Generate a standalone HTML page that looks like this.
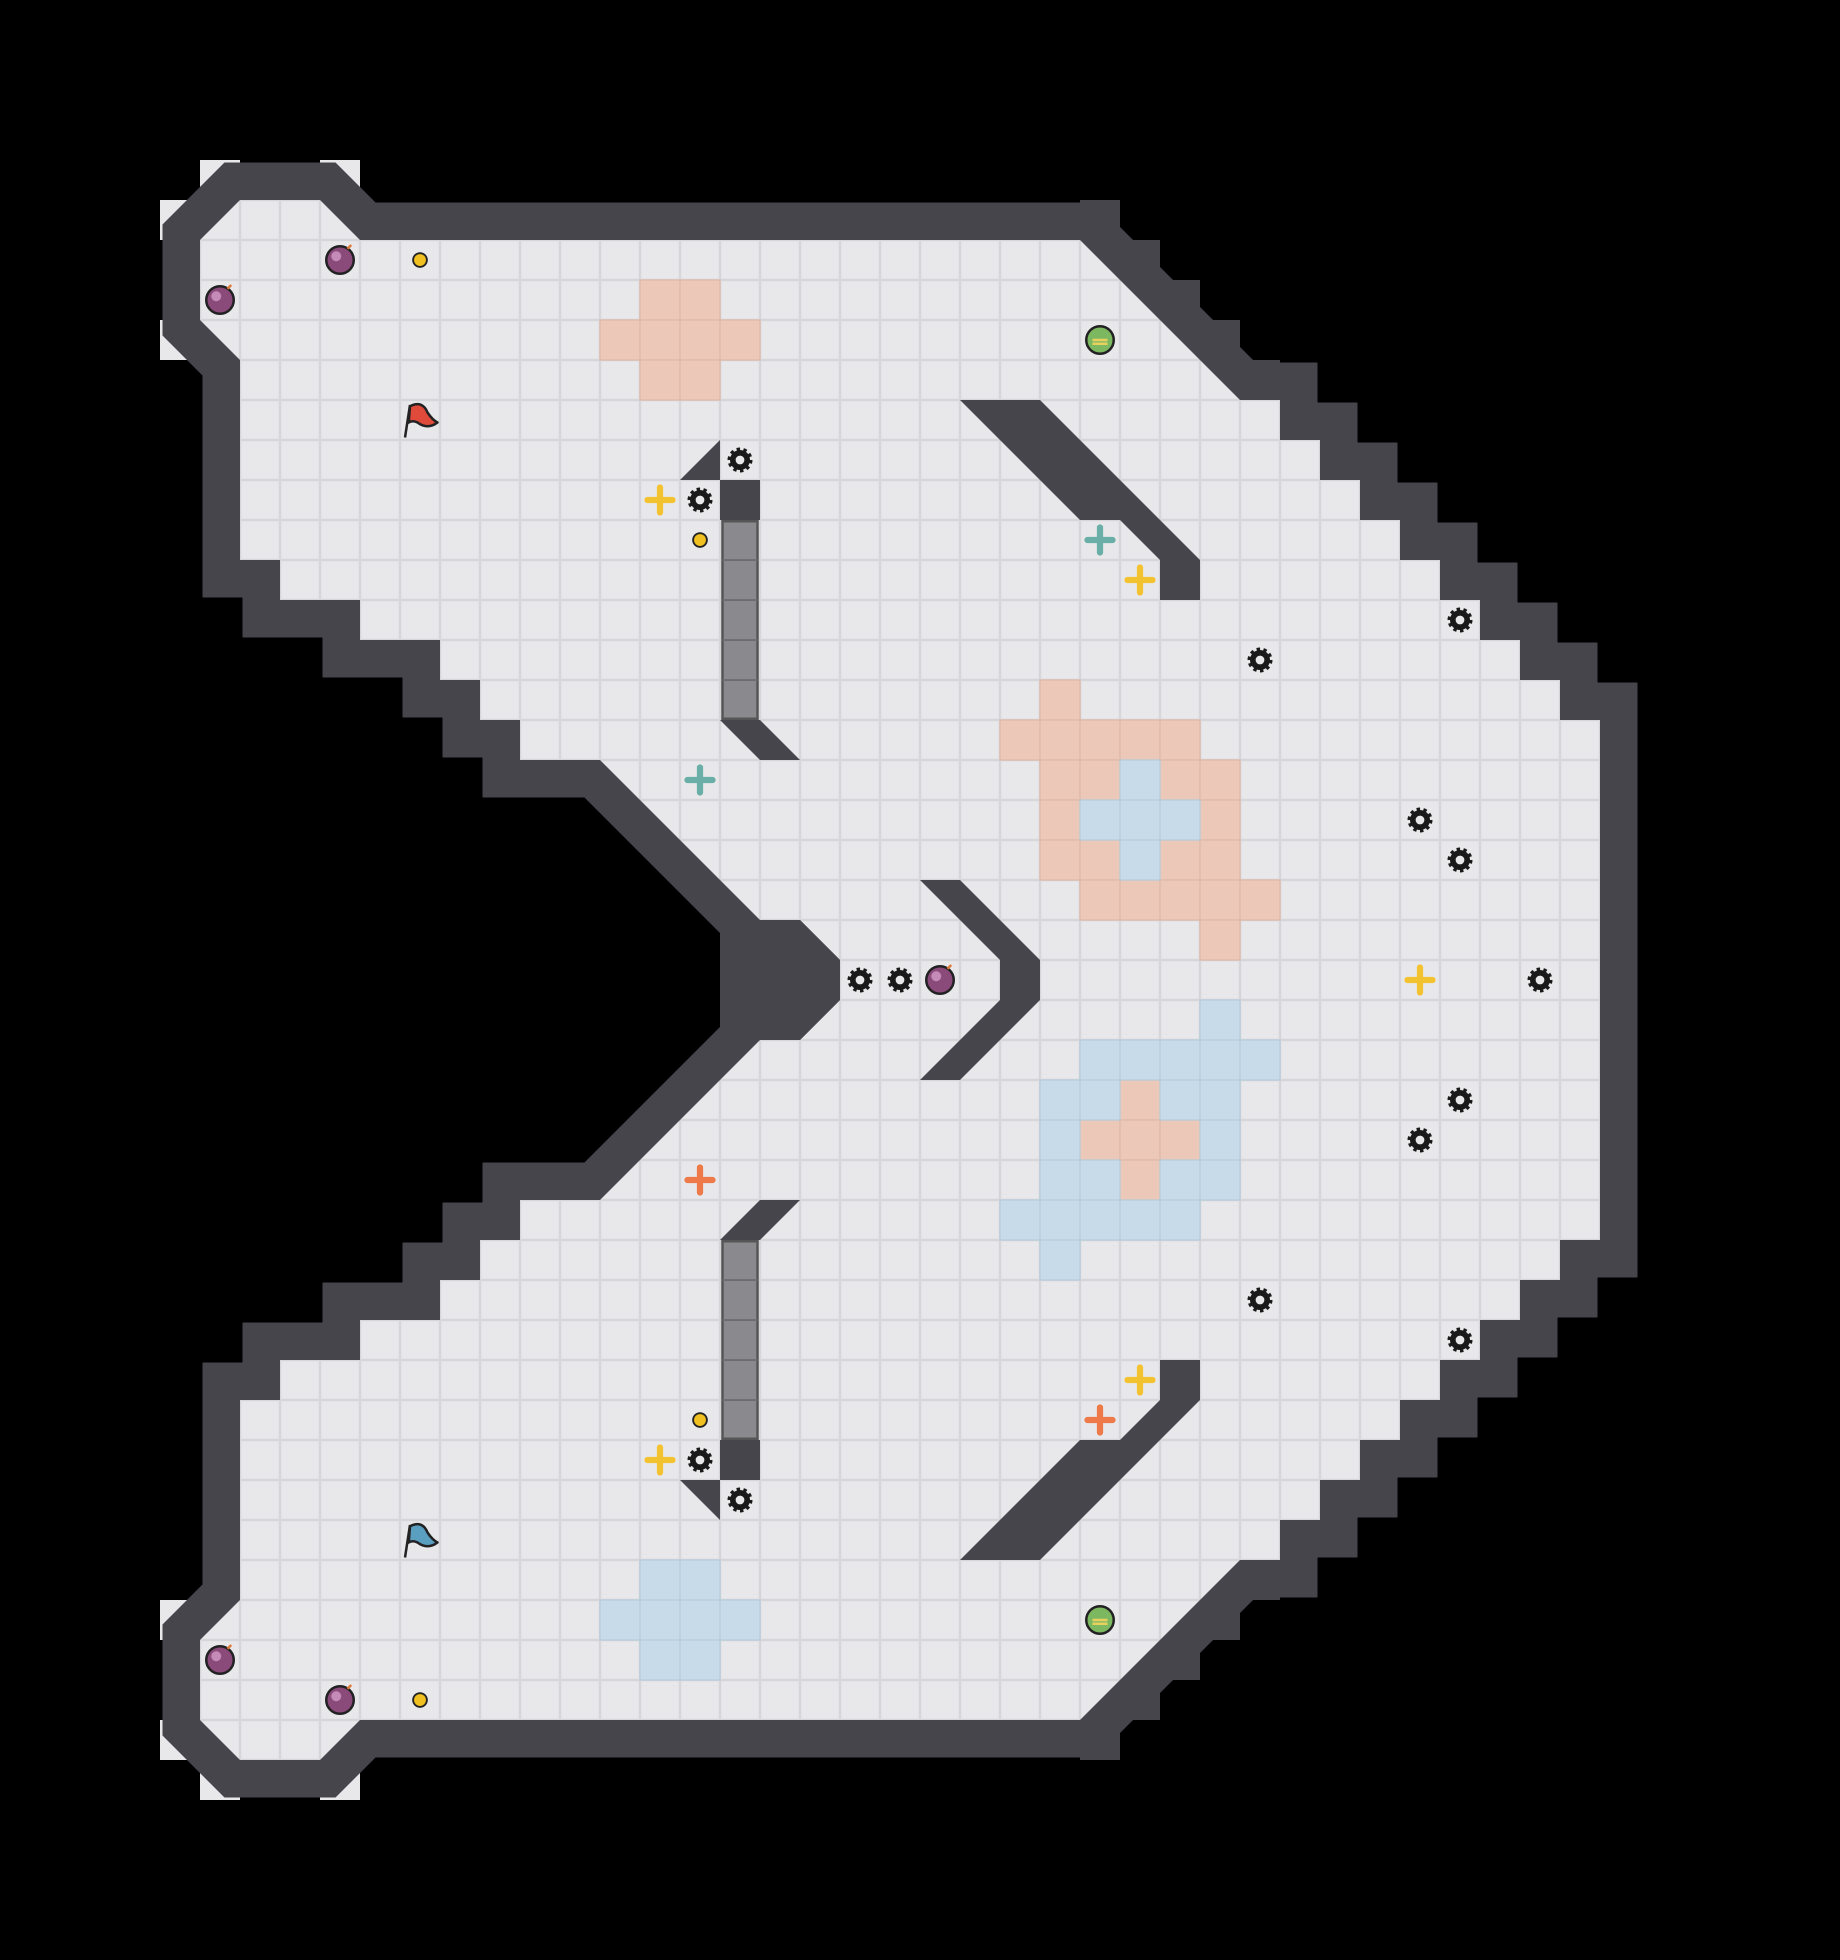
<!DOCTYPE html>
<html><head><meta charset="utf-8"><style>html,body{margin:0;padding:0;background:#000}svg{display:block}</style></head>
<body>
<svg width="1840" height="1960" viewBox="0 0 1472 1568" xmlns="http://www.w3.org/2000/svg">
<defs>
<pattern id="g" x="0" y="0" width="32" height="32" patternUnits="userSpaceOnUse">
<rect width="32" height="32" fill="#d6d6da"/>
<rect x="1" y="1" width="30" height="30" fill="#e8e8eb"/>
</pattern>
<g id="gear"><circle r="8" fill="#1a1a1a" stroke="#1a1a1a" stroke-width="4" stroke-dasharray="2.5 2.5"/><circle r="3.5" fill="#e8e8eb"/></g>
<g id="ball"><circle r="11" fill="#8a4a7a" stroke="#222" stroke-width="2"/><circle cx="-3" cy="-3" r="4" fill="#c58ab8"/><path d="M6 -9 l3 -3" stroke="#e07a3a" stroke-width="2"/></g>
<g id="gball"><circle r="11" fill="#7cb860" stroke="#222" stroke-width="2"/><path d="M-6 0 h12 M-6 3 h12" stroke="#e8d060" stroke-width="2"/></g>
<g id="dot"><circle r="5.5" fill="#f0c020" stroke="#222" stroke-width="1.5"/></g>
<g id="plus"><path d="M-10 0 H10 M0 -10 V10" stroke-width="5" stroke-linecap="round"/></g>
</defs>
<rect width="1472" height="1568" fill="#000"/>
<g fill="#e8e8eb">
<rect x="160" y="128" width="32" height="32"/><rect x="256" y="128" width="32" height="32"/>
<rect x="128" y="160" width="32" height="32"/><rect x="128" y="256" width="32" height="32"/>
<rect x="160" y="1408" width="32" height="32"/><rect x="256" y="1408" width="32" height="32"/>
<rect x="128" y="1376" width="32" height="32"/><rect x="128" y="1280" width="32" height="32"/>
</g>
<polygon id="floor" points="192,160 256,160 288,192 864,192 992,320 1024,320 1024,352 1056,352 1056,384 1088,384 1088,416 1120,416 1120,448 1152,448 1152,480 1184,480 1184,512 1216,512 1216,544 1248,544 1248,576 1280,576 1280,992 1248,992 1248,1024 1216,1024 1216,1056 1184,1056 1184,1088 1152,1088 1152,1120 1120,1120 1120,1152 1088,1152 1088,1184 1056,1184 1056,1216 1024,1216 1024,1248 992,1248 864,1376 288,1376 256,1408 192,1408 160,1376 160,1312 192,1280 192,1120 224,1120 224,1088 288,1088 288,1056 352,1056 352,1024 384,1024 384,992 416,992 416,960 480,960 608,832 640,832 672,800 672,768 640,736 608,736 480,608 416,608 416,576 384,576 384,544 352,544 352,512 288,512 288,480 224,480 224,448 192,448 192,288 160,256 160,192" fill="#46454b" stroke="#46454b" stroke-width="60" stroke-linejoin="miter"/>
<g fill="#46454b">
<polygon points="864,160 896,160 896,192 928,192 928,224 960,224 960,256 992,256 992,288 1024,288 1024,320 992,320 864,192"/>
<polygon points="864,1408 896,1408 896,1376 928,1376 928,1344 960,1344 960,1312 992,1312 992,1280 1024,1280 1024,1248 992,1248 864,1376"/>
<polygon points="480,608 608,736 576,736 576,704 544,704 544,672 512,672 512,640 480,640"/>
<polygon points="480,960 608,832 576,832 576,864 544,864 544,896 512,896 512,928 480,928"/>
</g>
<polygon points="192,160 256,160 288,192 864,192 992,320 1024,320 1024,352 1056,352 1056,384 1088,384 1088,416 1120,416 1120,448 1152,448 1152,480 1184,480 1184,512 1216,512 1216,544 1248,544 1248,576 1280,576 1280,992 1248,992 1248,1024 1216,1024 1216,1056 1184,1056 1184,1088 1152,1088 1152,1120 1120,1120 1120,1152 1088,1152 1088,1184 1056,1184 1056,1216 1024,1216 1024,1248 992,1248 864,1376 288,1376 256,1408 192,1408 160,1376 160,1312 192,1280 192,1120 224,1120 224,1088 288,1088 288,1056 352,1056 352,1024 384,1024 384,992 416,992 416,960 480,960 608,832 640,832 672,800 672,768 640,736 608,736 480,608 416,608 416,576 384,576 384,544 352,544 352,512 288,512 288,480 224,480 224,448 192,448 192,288 160,256 160,192" fill="url(#g)"/>
<g>
<g fill="#ecc8b8" stroke="#e0b8a6" stroke-width="1">
<rect x="512" y="224" width="32" height="32"/><rect x="544" y="224" width="32" height="32"/>
<rect x="480" y="256" width="32" height="32"/><rect x="512" y="256" width="32" height="32"/><rect x="544" y="256" width="32" height="32"/><rect x="576" y="256" width="32" height="32"/>
<rect x="512" y="288" width="32" height="32"/><rect x="544" y="288" width="32" height="32"/>
<rect x="832" y="544" width="32" height="32"/>
<rect x="800" y="576" width="32" height="32"/><rect x="832" y="576" width="32" height="32"/><rect x="864" y="576" width="32" height="32"/><rect x="896" y="576" width="32" height="32"/><rect x="928" y="576" width="32" height="32"/>
<rect x="832" y="608" width="32" height="32"/><rect x="864" y="608" width="32" height="32"/><rect x="928" y="608" width="32" height="32"/><rect x="960" y="608" width="32" height="32"/>
<rect x="832" y="640" width="32" height="32"/><rect x="960" y="640" width="32" height="32"/>
<rect x="832" y="672" width="32" height="32"/><rect x="864" y="672" width="32" height="32"/><rect x="928" y="672" width="32" height="32"/><rect x="960" y="672" width="32" height="32"/>
<rect x="864" y="704" width="32" height="32"/><rect x="896" y="704" width="32" height="32"/><rect x="928" y="704" width="32" height="32"/><rect x="960" y="704" width="32" height="32"/><rect x="992" y="704" width="32" height="32"/>
<rect x="960" y="736" width="32" height="32"/>
<rect x="896" y="864" width="32" height="32"/>
<rect x="864" y="896" width="32" height="32"/><rect x="896" y="896" width="32" height="32"/><rect x="928" y="896" width="32" height="32"/>
<rect x="896" y="928" width="32" height="32"/>
</g>
<g fill="#c8dbe8" stroke="#b6cddc" stroke-width="1">
<rect x="896" y="608" width="32" height="32"/>
<rect x="864" y="640" width="32" height="32"/><rect x="896" y="640" width="32" height="32"/><rect x="928" y="640" width="32" height="32"/>
<rect x="896" y="672" width="32" height="32"/>
<rect x="512" y="1248" width="32" height="32"/><rect x="544" y="1248" width="32" height="32"/>
<rect x="480" y="1280" width="32" height="32"/><rect x="512" y="1280" width="32" height="32"/><rect x="544" y="1280" width="32" height="32"/><rect x="576" y="1280" width="32" height="32"/>
<rect x="512" y="1312" width="32" height="32"/><rect x="544" y="1312" width="32" height="32"/>
<rect x="960" y="800" width="32" height="32"/>
<rect x="864" y="832" width="32" height="32"/><rect x="896" y="832" width="32" height="32"/><rect x="928" y="832" width="32" height="32"/><rect x="960" y="832" width="32" height="32"/><rect x="992" y="832" width="32" height="32"/>
<rect x="832" y="864" width="32" height="32"/><rect x="864" y="864" width="32" height="32"/><rect x="928" y="864" width="32" height="32"/><rect x="960" y="864" width="32" height="32"/>
<rect x="832" y="896" width="32" height="32"/><rect x="960" y="896" width="32" height="32"/>
<rect x="832" y="928" width="32" height="32"/><rect x="864" y="928" width="32" height="32"/><rect x="928" y="928" width="32" height="32"/><rect x="960" y="928" width="32" height="32"/>
<rect x="800" y="960" width="32" height="32"/><rect x="832" y="960" width="32" height="32"/><rect x="864" y="960" width="32" height="32"/><rect x="896" y="960" width="32" height="32"/><rect x="928" y="960" width="32" height="32"/>
<rect x="832" y="992" width="32" height="32"/>
</g>
</g>
<g fill="#46454b">
<polygon points="576,736 640,736 672,768 672,800 640,832 576,832"/>
<polygon points="768,320 832,320 960,448 960,480 928,480 928,448 896,416 864,416"/>
<polygon points="768,1248 832,1248 960,1120 960,1088 928,1088 928,1120 896,1152 864,1152"/>
<polygon points="736,704 768,704 832,768 832,800 768,864 736,864 800,800 800,768"/>
<polygon points="544,384 576,352 576,384"/>
<rect x="576" y="384" width="32" height="32"/>
<polygon points="576,576 608,576 640,608 608,608"/>
<polygon points="544,1184 576,1216 576,1184"/>
<rect x="576" y="1152" width="32" height="32"/>
<polygon points="576,992 608,992 640,960 608,960"/>
</g>
<g fill="#8a8a8e" stroke="#555" stroke-width="2">
<rect x="578" y="417" width="28" height="158"/>
<rect x="578" y="993" width="28" height="158"/>
</g>
<g stroke="#6c6c70" stroke-width="1.5">
<path d="M578 448 H606 M578 480 H606 M578 512 H606 M578 544 H606 M578 1024 H606 M578 1056 H606 M578 1088 H606 M578 1120 H606"/>
</g>
<g>
<use href="#gear" x="592" y="368"/><use href="#gear" x="560" y="400"/><use href="#gear" x="1168" y="496"/><use href="#gear" x="1008" y="528"/>
<use href="#gear" x="1136" y="656"/><use href="#gear" x="1168" y="688"/><use href="#gear" x="688" y="784"/><use href="#gear" x="720" y="784"/>
<use href="#gear" x="1232" y="784"/><use href="#gear" x="1168" y="880"/><use href="#gear" x="1136" y="912"/><use href="#gear" x="1008" y="1040"/>
<use href="#gear" x="1168" y="1072"/><use href="#gear" x="560" y="1168"/><use href="#gear" x="592" y="1200"/>
</g>
<use href="#ball" x="272" y="208"/><use href="#ball" x="176" y="240"/><use href="#ball" x="752" y="784"/><use href="#ball" x="176" y="1328"/><use href="#ball" x="272" y="1360"/>
<use href="#gball" x="880" y="272"/><use href="#gball" x="880" y="1296"/>
<use href="#dot" x="336" y="208"/><use href="#dot" x="560" y="432"/><use href="#dot" x="560" y="1136"/><use href="#dot" x="336" y="1360"/>
<g stroke="#f2c230"><use href="#plus" x="528" y="400"/><use href="#plus" x="912" y="464"/><use href="#plus" x="1136" y="784"/><use href="#plus" x="912" y="1104"/><use href="#plus" x="528" y="1168"/></g>
<g stroke="#6aaea8"><use href="#plus" x="880" y="432"/><use href="#plus" x="560" y="624"/></g>
<g stroke="#ee7a4a"><use href="#plus" x="560" y="944"/><use href="#plus" x="880" y="1136"/></g>
<g stroke="#222" stroke-width="2" stroke-linejoin="round">
<path d="M324 350 L328 324"/><path d="M328 325 Q338 320 342 330 Q346 336 350 338 Q342 344 334 338 Q330 336 327 338 Z" fill="#e04a3a"/>
<path d="M324 1246 L328 1220"/><path d="M328 1221 Q338 1216 342 1226 Q346 1232 350 1234 Q342 1240 334 1234 Q330 1232 327 1234 Z" fill="#5a9ec0"/>
</g>
</svg>
</body></html>
